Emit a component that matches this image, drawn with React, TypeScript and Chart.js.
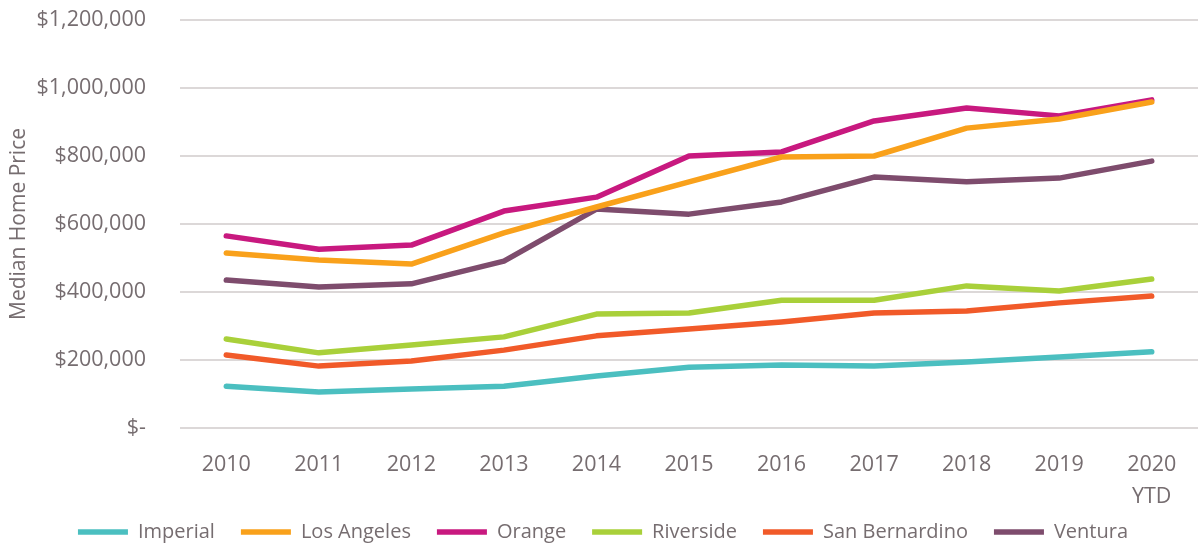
import React, { useEffect, useRef } from "react";
import { Chart, registerables } from "chart.js";

Chart.register(...registerables);

const categories: (string | string[])[] = ["2010", "2011", "2012", "2013", "2014", "2015", "2016", "2017", "2018", "2019", ["2020", "YTD"]];

const imperial = [123000, 106000, 115000, 123000, 153000, 179000, 185000, 182000, 194000, 209000, 224000];
const losAngeles = [515000, 494000, 482000, 574000, 650000, 724000, 797000, 800000, 882000, 909000, 959000];
const orange = [565000, 526000, 538000, 638000, 679000, 800000, 812000, 903000, 941000, 918000, 965000];
const riverside = [262000, 221000, 244000, 268000, 335000, 338000, 376000, 376000, 418000, 403000, 438000];
const sanBernardino = [215000, 182000, 197000, 229000, 271000, 291000, 312000, 338000, 344000, 368000, 388000];
const ventura = [435000, 415000, 424000, 491000, 644000, 629000, 665000, 738000, 724000, 735000, 785000];

const seriesNames = ["Imperial", "Los Angeles", "Orange", "Riverside", "San Bernardino", "Ventura"];
const seriesColors = ["#4bbfc0", "#f9a11b", "#c8197f", "#a9d03a", "#f15a29", "#7e4c6d"];

const yTickMin = 0;
const yTickMax = 1200000;
const yTickStep = 200000;

const textColor = "#766d70";
const fontFamily = "'Open Sans', 'Noto Sans', sans-serif";

function formatMoney(v: number): string {
  if (v === 0) return "$-";
  return "$" + v.toLocaleString("en-US");
}

export default function App() {
  const canvasRef = useRef<HTMLCanvasElement | null>(null);

  useEffect(() => {
    if (!canvasRef.current) return;
    const values = [imperial, losAngeles, orange, riverside, sanBernardino, ventura];
    const chart = new Chart(canvasRef.current, {
      type: "line",
      data: {
        labels: categories,
        datasets: seriesNames.map((name, i) => ({
          label: name,
          data: values[i],
          borderColor: seriesColors[i],
          backgroundColor: seriesColors[i],
          borderWidth: 5.5,
          borderCapStyle: "round" as const,
          borderJoinStyle: "round" as const,
          pointRadius: 0,
          pointHoverRadius: 0,
          tension: 0,
          fill: false,
          pointStyle: "line" as const,
        })),
      },
      options: {
        animation: false,
        responsive: false,
        maintainAspectRatio: false,
        layout: { padding: { top: 0, right: -8, left: 0, bottom: -8 } },
        plugins: {
          tooltip: { enabled: false },
          legend: {
            position: "bottom",
            labels: {
              color: textColor,
              font: { family: fontFamily, size: 20 },
              usePointStyle: true,
              pointStyleWidth: 50,
              boxHeight: 5,
              padding: 26,
            },
          },
        },
        scales: {
          x: {
            offset: true,
            grid: { display: false, offset: true, drawTicks: false },
            border: { display: false },
            ticks: {
              color: textColor,
              font: { family: fontFamily, size: 21.5, lineHeight: 1.48 },
              padding: 21,
              maxRotation: 0,
              autoSkip: false,
            },
            afterFit: (s: any) => {
              s.height = 68;
              s._computeLabelArea = () => undefined;
            },
          },
          y: {
            min: yTickMin,
            max: yTickMax,
            grid: { color: "#dcd8d8", lineWidth: 2, drawTicks: false },
            border: { display: false },
            ticks: {
              stepSize: yTickStep,
              color: textColor,
              font: { family: fontFamily, size: 21.5 },
              padding: 34,
              callback: (v: any) => formatMoney(Number(v)),
            },
            title: {
              display: true,
              text: "Median Home Price",
              color: textColor,
              font: { family: fontFamily, size: 21 },
              padding: { top: 6, bottom: 0 },
            },
            afterFit: (s: any) => {
              s.width = 180;
              s.paddingTop = 20;
              s.paddingBottom = 0;
            },
          },
        },
      },
    });
    return () => chart.destroy();
  }, []);

  return (
    <div style={{ position: "fixed", left: 0, top: 0, width: 1198, height: 544, background: "#fff" }}>
      <canvas ref={canvasRef} width={1198} height={544} style={{ display: "block" }} />
    </div>
  );
}
